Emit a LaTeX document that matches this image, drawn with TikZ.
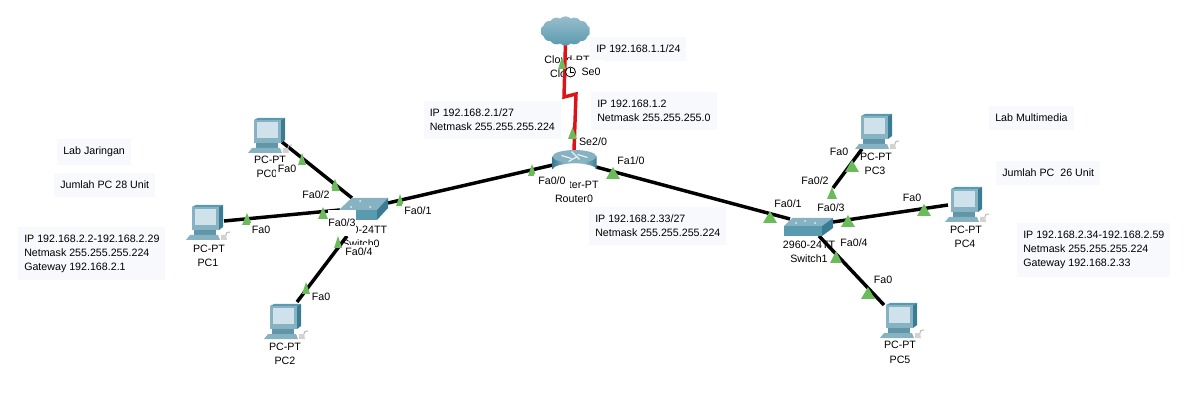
\documentclass[tikz,border=0pt]{standalone}
\usepackage{fontspec}
\setmainfont{Liberation Sans}
\usetikzlibrary{shapes.symbols}

\definecolor{linkred}{HTML}{DC1418}
\definecolor{portgreen}{HTML}{6CBB5A}
\definecolor{notefill}{HTML}{F8F9FD}
\definecolor{tealdark}{HTML}{3A7C93}
\definecolor{tealmid}{HTML}{5A9AAF}
\definecolor{teallight}{HTML}{86B2C2}
\definecolor{screenblue}{HTML}{CFE2EC}

\tikzset{
  txt/.style={font=\fontsize{8pt}{10.5pt}\selectfont, inner sep=0pt},
  devlabel/.style={txt},
  portlabel/.style={txt, fill=white, inner xsep=1.5pt, minimum height=11pt},
  note/.style={txt, fill=notefill, align=left, anchor=west, inner xsep=4.5pt, inner ysep=6pt},
  eth/.style={line width=2.6pt, black},
  serial/.style={line width=2.6pt, linkred},
  pcicon/.pic={
    \fill[tealmid] (-14,-15) -- (-10,-17) -- (17,-17) -- (13,-15) -- cycle;
    \fill[tealdark] (13,-15) -- (17,-17) -- (17,5) -- (13,8) -- cycle;
    \fill[teallight] (-14,-15) rectangle (13,8);
    \fill[screenblue] (-11,-13) rectangle (10,3);
    \fill[tealdark!80] (-12,8) rectangle (10,13);
    \fill[teallight] (-16,13) -- (12,13) -- (14,18) -- (-20,18) -- cycle;
    \draw[gray!60, line width=0.7pt] (15,17) .. controls (24,17) and (16,10) .. (24,10);
    \fill[gray!35] (15,13) -- (20,13) -- (21,18) -- (15,18) -- cycle;
  },
  swicon/.pic={
    \fill[teallight] (-19,0) -- (19,0) -- (30,-#1) -- (-19+1.05*#1,-#1) -- cycle;
    \fill[tealmid] (-19,0) rectangle (19,10);
    \fill[tealdark] (19,0) -- (30,-#1) -- (30,10-#1) -- (19,10) -- cycle;
    \fill[white!80!teallight] (-7,-3) circle (1) (12,-3) circle (1) (2,-#1+3) circle (1);
  },
  routericon/.pic={
    \shade[left color=tealdark, right color=tealdark, middle color=screenblue]
      (-22,-6) -- (-22,7) arc[start angle=180, end angle=360, x radius=22, y radius=6] -- (22,-6) -- cycle;
    \fill[teallight] (0,-6) ellipse (22 and 6.5);
    \draw[white!80!teallight, line width=0.9pt] (-13,-7) -- (-3,-4) (3,-8) -- (13,-5) (-6,-1) -- (3,-6) (-3,-11) -- (5,-3);
  },
  portmark/.pic={
    \fill[portgreen] (-#1,6) -- (#1,6) -- (0,-6) -- cycle;
  }
}

\begin{document}
\begin{tikzpicture}[x=0.75pt, y=-0.75pt]
  \useasboundingbox (0,0) rectangle (1192,420);

  % notes
  \node[note] (noteJaringan) at (57,152) {Lab Jaringan};
  \node[note] (noteJumlahA) at (54,185) {Jumlah PC 28 Unit};
  \node[note] (noteLanA) at (18,253.5) {IP 192.168.2.2-192.168.2.29\\Netmask 255.255.255.224\\Gateway 192.168.2.1};
  \node[note] (noteGwA) at (423.5,120) {IP 192.168.2.1/27\\Netmask 255.255.255.224};
  \node[note] (noteCloud) at (590,49) {IP 192.168.1.1/24};
  \node[note] (noteSerial) at (591,111) {IP 192.168.1.2\\Netmask 255.255.255.0};
  \node[note] (noteGwB) at (589,226) {IP 192.168.2.33/27\\Netmask 255.255.255.224};
  \node[note] (noteMulti) at (989,118) {Lab Multimedia};
  \node[note] (noteJumlahB) at (996,173) {Jumlah PC\ \ 26 Unit};
  \node[note] (noteLanB) at (1017,250) {IP 192.168.2.34-192.168.2.59\\Netmask 255.255.255.224\\Gateway 192.168.2.33};

  % device labels
  \node[devlabel] (typeCloud) at (567,60) {Cloud-PT};
  \node[devlabel] (nameCloud) at (567,74) {Cloud0};
  \node[devlabel] (typeRouter) at (574,185) {Router-PT};
  \node[devlabel] (nameRouter) at (574,199) {Router0};
  \node[devlabel] (typeSwA) at (361,230) {2960-24TT};
  \node[devlabel] (nameSwA) at (361,244) {Switch0};
  \node[devlabel] (typeSwB) at (809,245) {2960-24TT};
  \node[devlabel] (nameSwB) at (809,259) {Switch1};
  \node[devlabel] (typeP0) at (270,160) {PC-PT};
  \node[devlabel] (nameP0) at (267,174) {PC0};
  \node[devlabel] (typeP1) at (209,249) {PC-PT};
  \node[devlabel] (nameP1) at (208,263) {PC1};
  \node[devlabel] (typeP2) at (285,347) {PC-PT};
  \node[devlabel] (nameP2) at (285,361) {PC2};
  \node[devlabel] (typeP3) at (876,157) {PC-PT};
  \node[devlabel] (nameP3) at (875,171) {PC3};
  \node[devlabel] (typeP4) at (966,230) {PC-PT};
  \node[devlabel] (nameP4) at (965,244) {PC4};
  \node[devlabel] (typeP5) at (900,345) {PC-PT};
  \node[devlabel] (nameP5) at (900,360) {PC5};

  % white behind the clock
  \fill[white] (566,60) rectangle (603,83);

  % link ends
  \coordinate (CloudS) at (565.5,42);
  \coordinate (Bend1) at (564,97);
  \coordinate (Bend2) at (576,94);
  \coordinate (RouterN) at (574,150);
  \coordinate (RouterW) at (553,165);
  \coordinate (RouterE) at (596,167);
  \coordinate (SwAe) at (388,203);
  \coordinate (SwAnw) at (352,198);
  \coordinate (SwAw) at (340,210);
  \coordinate (SwAs) at (347,236);
  \coordinate (SwBw) at (790,219);
  \coordinate (SwBn) at (833,188);
  \coordinate (SwBe) at (833,222);
  \coordinate (SwBs) at (819,236);
  \coordinate (P0e) at (282,142);
  \coordinate (P1e) at (224,221);
  \coordinate (P2e) at (297,302);
  \coordinate (P3e) at (862,149);
  \coordinate (P4e) at (948,205);
  \coordinate (P5e) at (884,305);

  % links
  \draw[serial] (CloudS) -- (Bend1) -- (Bend2) -- (RouterN);
  \draw[eth] (RouterW) -- (SwAe);
  \draw[eth] (RouterE) -- (SwBw);
  \draw[eth] (P0e) -- (SwAnw);
  \draw[eth] (P1e) -- (SwAw);
  \draw[eth] (P2e) -- (SwAs);
  \draw[eth] (P3e) -- (SwBn);
  \draw[eth] (P4e) -- (SwBe);
  \draw[eth] (P5e) -- (SwBs);

  % devices
  \node[cloud, cloud puffs=14, cloud puff arc=90, aspect=1.7, minimum width=37pt, minimum height=22pt, inner sep=0pt,
        top color=teallight!85!white, bottom color=tealmid] (Cloud0) at (565.5,31) {};
  \pic at (574.5,162.5) {routericon};
  \pic at (358,210) {swicon=12};
  \pic at (803,226) {swicon=8};
  \pic at (268,135) {pcicon};
  \pic at (206,222) {pcicon};
  \pic at (284,321) {pcicon};
  \pic at (875,131) {pcicon};
  \pic at (965,204) {pcicon};
  \pic at (900,320) {pcicon};

  % port markers
  \pic at (562,63) {portmark=4};
  \pic at (572.5,133) {portmark=4.5};
  \pic at (532,170) {portmark=4};
  \pic at (613,173) {portmark=7};
  \pic at (400,200) {portmark=4};
  \pic at (302,159) {portmark=4};
  \pic at (335,185) {portmark=5};
  \pic at (247,219) {portmark=5};
  \pic at (323,213) {portmark=5};
  \pic at (338,242) {portmark=4};
  \pic at (306,288) {portmark=4};
  \pic at (852,166) {portmark=7};
  \pic at (832,193) {portmark=5};
  \pic at (770,217) {portmark=7};
  \pic at (848,221) {portmark=7};
  \pic at (924,210) {portmark=7};
  \pic at (836,257) {portmark=6};
  \pic at (868,293) {portmark=7};

  % white under the labels that hide the switch text
  \fill[white] (328,210.5) rectangle (355.5,236);

  % port labels
  \node[portlabel] (portSe0) at (591,72) {Se0};
  \node[portlabel] (portSe20) at (593,142) {Se2/0};
  \node[portlabel, inner xsep=3pt] (portR00) at (552,181) {Fa0/0};
  \node[portlabel] (portR10) at (631,161) {Fa1/0};
  \node[portlabel] (portA1) at (418,211) {Fa0/1};
  \node[portlabel] (portA2) at (316,195) {Fa0/2};
  \node[portlabel, inner xsep=0pt] (portA3) at (342,223) {Fa0/3};
  \node[portlabel] (portA4) at (359,252) {Fa0/4};
  \node[portlabel] (portP0) at (287,169) {Fa0};
  \node[portlabel] (portP1) at (261,230) {Fa0};
  \node[portlabel] (portP2) at (321,297) {Fa0};
  \node[portlabel] (portB1) at (788,204) {Fa0/1};
  \node[portlabel] (portB2) at (815,181) {Fa0/2};
  \node[portlabel] (portB3) at (831,208) {Fa0/3};
  \node[portlabel] (portB4) at (854,243) {Fa0/4};
  \node[portlabel] (portP3) at (839,152) {Fa0};
  \node[portlabel] (portP4) at (912,198) {Fa0};
  \node[portlabel] (portP5) at (883,280) {Fa0};

  % clock on the serial link
  \draw[black, fill=white, line width=0.6pt] (570.5,72) circle (5);
  \draw[black, line width=0.6pt] (570.5,68.5) -- (570.5,72) -- (573.5,72);
\end{tikzpicture}
\end{document}
